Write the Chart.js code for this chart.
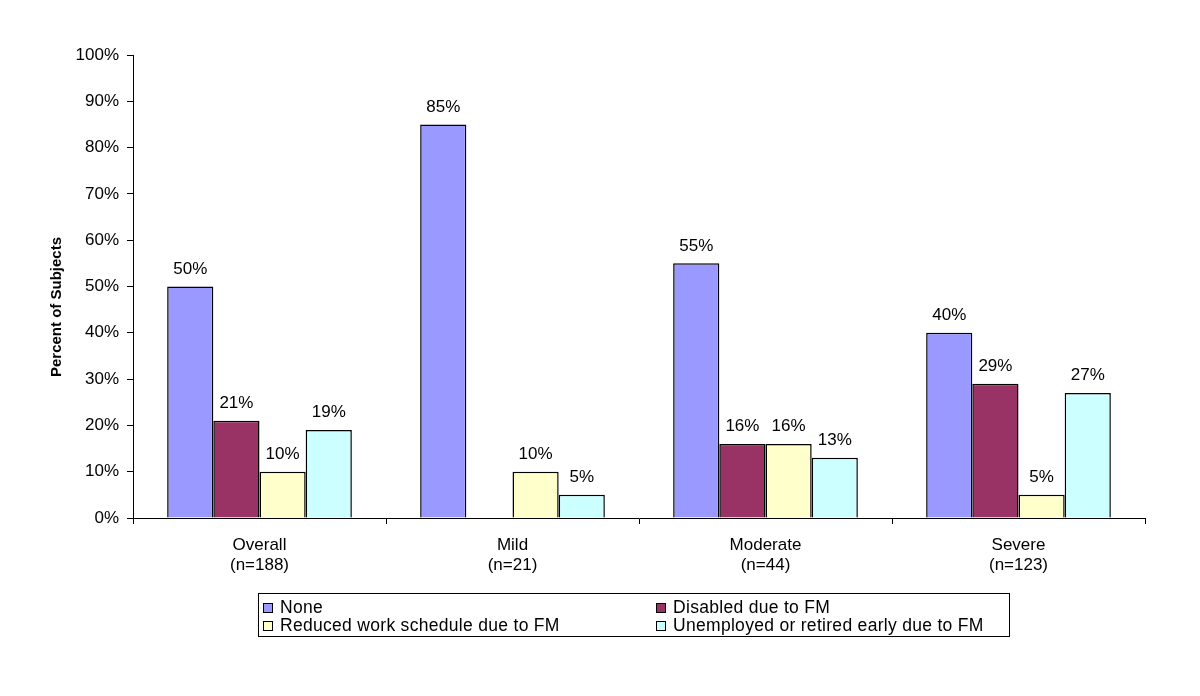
<!DOCTYPE html>
<html>
<head>
<meta charset="utf-8">
<script src="https://cdn.jsdelivr.net/npm/chart.js@4.4.1/dist/chart.umd.min.js"></script>
<style>
  html, body { margin: 0; padding: 0; background: #fff; }
  #wrap { position: relative; width: 1200px; height: 696px; }
  #legend {
    position: absolute; left: 258px; top: 593px; width: 752px; height: 44px;
    border: 1px solid #000; box-sizing: border-box;
    font-family: "Liberation Sans", Arial, sans-serif; font-size: 17.5px; color: #000;
    display: grid; grid-template-columns: 393px auto; padding: 6px 0 0 4px;
    line-height: 15px; letter-spacing: 0.3px;
  }
  #legend span.sw {
    display: inline-block; width: 8px; height: 8px; border: 1px solid #000;
    margin-right: 7px; vertical-align: 0px;
  }
</style>
</head>
<body>
<div id="wrap">
  <canvas id="chart" width="1200" height="696"></canvas>
  <div id="legend"></div>
</div>
<script>
// categories and series
var categories = [['Overall', '(n=188)'], ['Mild', '(n=21)'], ['Moderate', '(n=44)'], ['Severe', '(n=123)']];
var seriesNames = ['None', 'Disabled due to FM', 'Reduced work schedule due to FM', 'Unemployed or retired early due to FM'];
var noneVals = [50, 85, 55, 40];
var disabledVals = [21, null, 16, 29];
var reducedVals = [10, 10, 16, 5];
var unemployedVals = [19, 5, 13, 27];
var colors = ['#9999FF', '#993366', '#FFFFCC', '#CCFFFF'];

var font = '"Liberation Sans", Arial, sans-serif';

function ds(i, vals) {
  return {
    label: seriesNames[i],
    data: vals,
    backgroundColor: colors[i],
    borderColor: '#000',
    borderWidth: 1.5,
    borderSkipped: 'bottom'
  };
}

// value labels above bars + rotated y title
var valueLabels = {
  id: 'valueLabels',
  afterDatasetsDraw: function(chart) {
    var ctx = chart.ctx;
    ctx.save();
    ctx.font = '17px ' + font;
    ctx.fillStyle = '#000';
    ctx.textAlign = 'center';
    ctx.textBaseline = 'bottom';
    chart.data.datasets.forEach(function(d, i) {
      chart.getDatasetMeta(i).data.forEach(function(bar, j) {
        var v = d.data[j];
        if (v == null) return;
        ctx.fillText(v + '%', bar.x, bar.y - 9);
      });
    });
    ctx.translate(57, 307);
    ctx.rotate(-Math.PI / 2);
    ctx.textBaseline = 'middle';
    ctx.font = 'bold 15px ' + font;
    ctx.fillText('Percent of Subjects', 0, 0);
    ctx.restore();
  }
};

var chart = new Chart(document.getElementById('chart').getContext('2d'), {
  type: 'bar',
  data: {
    labels: categories,
    datasets: [ds(0, noneVals), ds(1, disabledVals), ds(2, reducedVals), ds(3, unemployedVals)]
  },
  options: {
    responsive: false,
    animation: false,
    layout: { padding: { left: 44, right: 55, top: 55, bottom: 118 } },
    plugins: { legend: { display: false }, tooltip: { enabled: false } },
    datasets: { bar: { categoryPercentage: 0.73, barPercentage: 1 } },
    scales: {
      x: {
        offset: true,
        grid: { offset: true, drawOnChartArea: false, color: '#000', tickLength: 6, lineWidth: 1 },
        border: { color: '#000', width: 1 },
        ticks: { color: '#000', font: { family: font, size: 17 }, padding: 11, maxRotation: 0 },
        afterFit: function(s) { s.height = 60; }
      },
      y: {
        min: 0, max: 100,
        grid: { drawOnChartArea: false, color: '#000', tickLength: 6 },
        border: { color: '#000', width: 1 },
        ticks: { stepSize: 10, color: '#000', font: { family: font, size: 17 }, padding: 8,
          callback: function(v) { return v + '%'; } },
        afterFit: function(s) { s.width = 89; }
      }
    }
  },
  plugins: [valueLabels]
});

// legend, two columns
var lg = document.getElementById('legend');
[0, 1, 2, 3].forEach(function(i) {
  var d = document.createElement('div');
  d.innerHTML = '<span class="sw" style="background:' + colors[i] + '"></span>' + seriesNames[i];
  lg.appendChild(d);
});
</script>
</body>
</html>
